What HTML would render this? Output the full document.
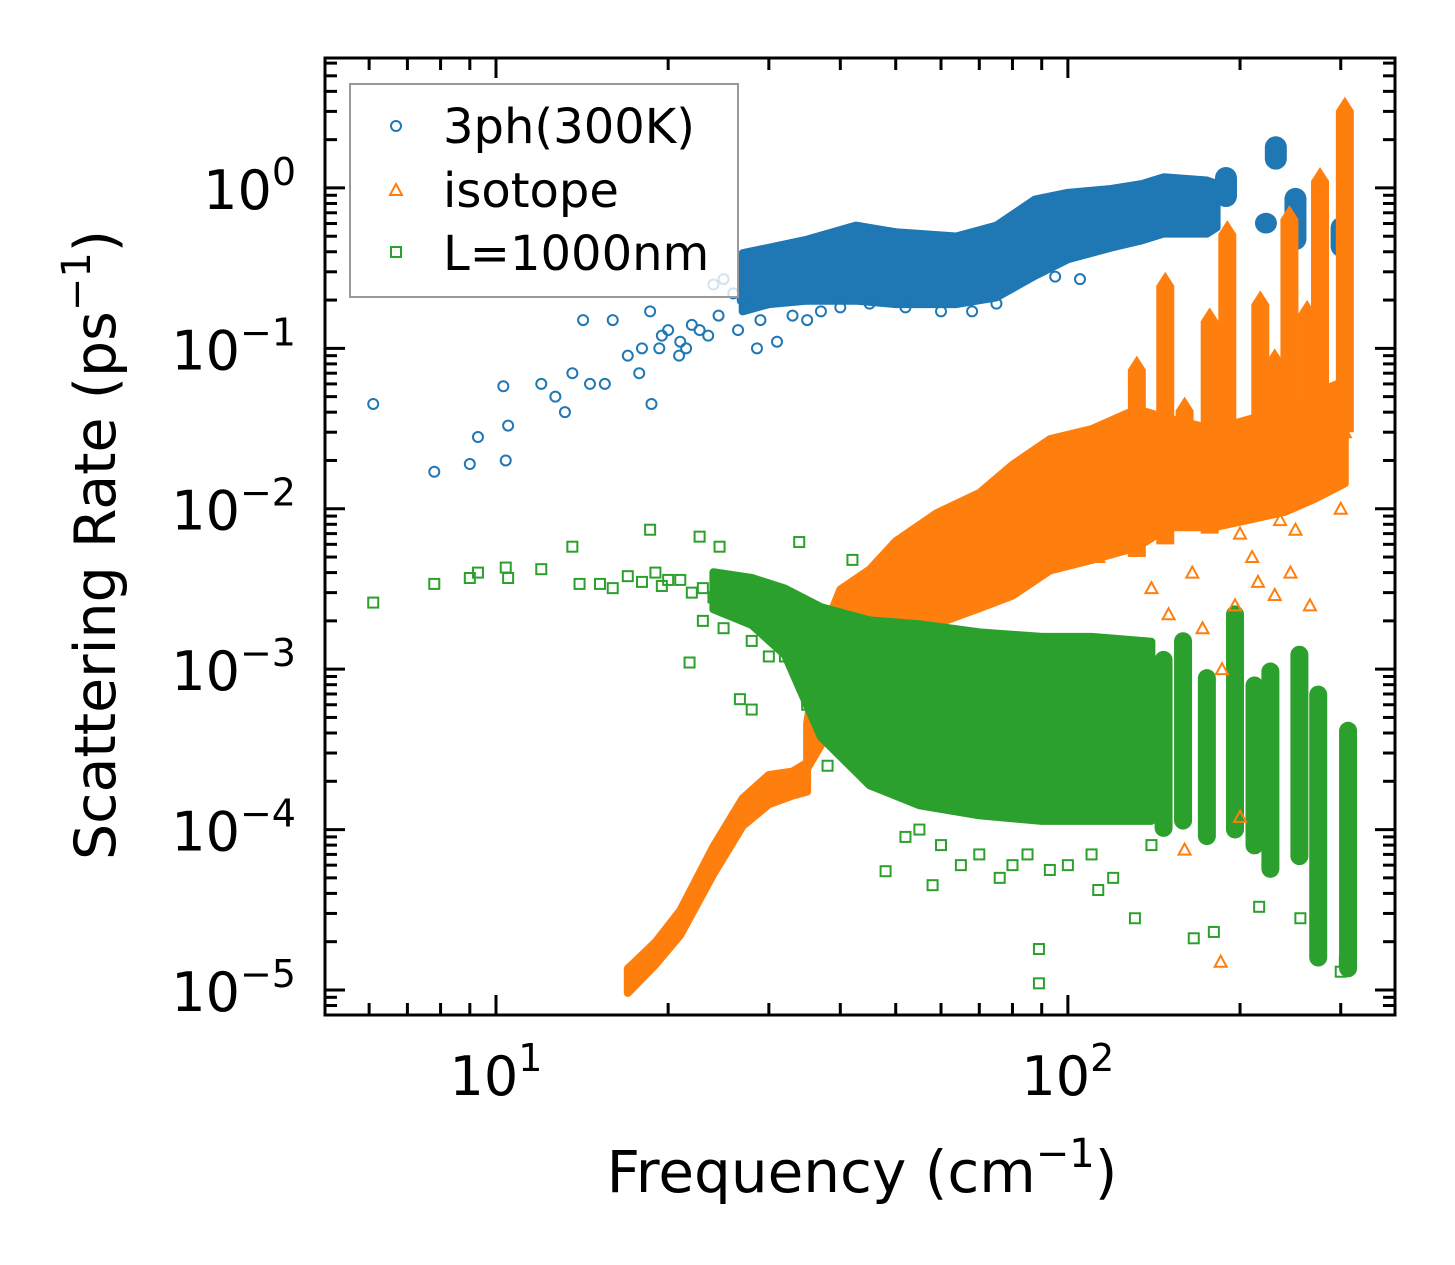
<!DOCTYPE html>
<html><head><meta charset="utf-8">
<style>
html,body{margin:0;padding:0;background:#fff;}
svg{display:block;font-family:"DejaVu Sans","Liberation Sans",sans-serif;}
</style></head>
<body>
<svg id="chart" width="1455" height="1265" viewBox="0 0 1455 1265" xmlns="http://www.w3.org/2000/svg">
<rect width="1455" height="1265" fill="#fff"/>
<g id="bands"></g>
<g id="marks"></g>
<g id="axes"></g>
<g>
  <rect x="350" y="84" width="388" height="213" fill="#fff" fill-opacity="0.8" stroke="#999" stroke-width="2"/>
  <circle cx="396" cy="126" r="5" fill="none" stroke="#1f77b4" stroke-width="2"/>
  <text x="443" y="143" font-size="48">3ph(300K)</text>
  <path d="M390,195 L396,184 L402,195 Z" fill="none" stroke="#ff7f0e" stroke-width="2"/>
  <text x="443" y="207" font-size="48">isotope</text>
  <rect x="391" y="247" width="10" height="10" fill="none" stroke="#2ca02c" stroke-width="2"/>
  <text x="443" y="270" font-size="48">L=1000nm</text>
</g>
<text x="862" y="1192" font-size="58" text-anchor="middle">Frequency (cm<tspan dy="-25" font-size="40">−1</tspan><tspan dy="25">)</tspan></text>
<text transform="translate(115,545) rotate(-90)" font-size="57" text-anchor="middle">Scattering Rate (ps<tspan dy="-25" font-size="40">−1</tspan><tspan dy="25">)</tspan></text>
</svg>
<script>
// ---- data ----
const xTickLabels = ["10","10"];
const xTickExp = [1,2];
const yTickExp = [0,-1,-2,-3,-4,-5];
// blue 3ph sparse points [freq, rate]
const blueX = [6.1,7.8,9,9.3,10.3,10.4,10.5,12,12.7,13.2,13.6,14.2,14.6,15.5,16,17.8,18.7,18.6,19.3,20,20.9,22.7,28.6,31,24,25,26,27,23.5,21.5,17,18,19.5,21,22,24.5,26.5,29,33,35,37,40,45,52,60,68,75,95,105];
const blueY = [0.045,0.017,0.019,0.028,0.058,0.02,0.033,0.06,0.05,0.04,0.07,0.15,0.06,0.06,0.15,0.07,0.045,0.17,0.1,0.13,0.09,0.13,0.1,0.11,0.25,0.27,0.22,0.2,0.12,0.1,0.09,0.1,0.12,0.11,0.14,0.16,0.13,0.15,0.16,0.15,0.17,0.18,0.19,0.18,0.17,0.17,0.19,0.28,0.27];
// blue dense band
const blueBandX = [27,30,35,42.6,50,63.8,75,87.6,100,119,135,147,175,182];
const blueBandLo = [0.18,0.2,0.21,0.21,0.2,0.2,0.22,0.3,0.38,0.45,0.5,0.55,0.55,0.6];
const blueBandHi = [0.37,0.4,0.45,0.55,0.5,0.47,0.55,0.8,0.88,0.93,1.0,1.1,1.05,1.0];
// blue islands
const blueIslX = [189,222,231,250,301];
const blueIslLo = [0.76,0.52,1.3,0.41,0.37];
const blueIslHi = [1.35,0.7,2.1,1.0,0.66];
// orange isotope band (low-frequency branch)
const orgLineX = [17,19,21,24,27,30,33,35];
const orgLineLo = [1e-5,1.5e-5,2.3e-5,5.5e-5,1.1e-4,1.5e-4,1.7e-4,1.8e-4];
const orgLineHi = [1.3e-5,1.9e-5,3e-5,7.5e-5,1.5e-4,2.1e-4,2.2e-4,2.5e-4];
// orange main band
const orgBandX = [35,37,40,45,50,59,70,80,93,110,132,150,180,210,240,270,305];
const orgBandLo = [2.5e-4,3.5e-4,6e-4,1e-3,1.4e-3,2e-3,2.5e-3,3e-3,4.3e-3,5e-3,6e-3,8e-3,8e-3,9e-3,1e-2,1.2e-2,1.5e-2];
const orgBandHi = [4.4e-4,1.5e-3,3e-3,4e-3,6e-3,9e-3,1.2e-2,1.8e-2,2.6e-2,3e-2,4e-2,3.5e-2,3e-2,3.5e-2,4e-2,5e-2,6e-2];
// orange spikes
const orgSpikeX = [132,148,160,177,190,217,230,244,262,276,305];
const orgSpikeLo = [5e-3,6e-3,8e-3,7e-3,1e-2,1e-2,2e-2,1.5e-2,2e-2,2e-2,3e-2];
const orgSpikeHi = [0.09,0.3,0.05,0.18,0.63,0.23,0.1,0.78,0.2,1.35,3.7];
// orange sparse
const orgX = [185,200,160,250,230,210,140,113,225,235,305,265,280,290,245,215,196,186,172,150,165,200,255,300];
const orgY = [1.5e-5,1.2e-4,7.5e-5,7.4e-3,2.9e-3,5e-3,3.2e-3,5e-3,1.5e-2,8.5e-3,0.03,2.5e-3,0.025,0.04,4e-3,3.5e-3,2.5e-3,1e-3,1.8e-3,2.2e-3,4e-3,7e-3,1.2e-2,1e-2];
// green sparse
const grnX = [6.1,7.8,9,9.3,10.4,10.5,12,13.6,15.2,18.6,22.7,24.6,33.9,42,21.8,26.7,28,48,58,89,89,113,131,166,180,216,255,300,305,68,76,93,14,16,19,20,23,25,30,36,45,38,55,35,32,17,18,19.5,21,22,24,26,27,29,31,33,28,30,25,23,60,70,80,100,120,52,65,85,110,140];
const grnY = [2.6e-3,3.4e-3,3.7e-3,4e-3,4.3e-3,3.7e-3,4.2e-3,5.8e-3,3.4e-3,7.4e-3,6.7e-3,5.8e-3,6.2e-3,4.8e-3,1.1e-3,6.5e-4,5.6e-4,5.5e-5,4.5e-5,1.1e-5,1.8e-5,4.2e-5,2.8e-5,2.1e-5,2.3e-5,3.3e-5,2.8e-5,1.3e-5,1.5e-5,1.4e-4,5e-5,5.6e-5,3.4e-3,3.2e-3,4e-3,3.6e-3,3.2e-3,3e-3,2.5e-3,1.6e-3,3.5e-4,2.5e-4,1e-4,6e-4,1.2e-3,3.8e-3,3.5e-3,3.3e-3,3.6e-3,3e-3,2.8e-3,2.6e-3,2.2e-3,2.4e-3,2e-3,1.8e-3,1.5e-3,1.2e-3,1.8e-3,2e-3,8e-5,7e-5,6e-5,6e-5,5e-5,9e-5,6e-5,7e-5,7e-5,8e-5];
// green dense band
const grnBandX = [24,28,32,37,45,55,70,90,110,140];
const grnBandLo = [2.5e-3,2e-3,1.3e-3,4e-4,2e-4,1.5e-4,1.3e-4,1.2e-4,1.2e-4,1.2e-4];
const grnBandHi = [3.8e-3,3.5e-3,3e-3,2.3e-3,1.9e-3,1.8e-3,1.6e-3,1.5e-3,1.5e-3,1.4e-3];
// green spikes
const grnSpikeX = [147,159,175,196,212,226,254,274,309];
const grnSpikeLo = [9e-5,1e-4,8e-5,8.8e-5,7e-5,5e-5,6e-5,1.4e-5,1.2e-5];
const grnSpikeHi = [1.3e-3,1.7e-3,1e-3,2.5e-3,9e-4,1.1e-3,1.4e-3,7.9e-4,4.7e-4];

// ---- axes mapping ----
const L=325,R=1395,T=58,B=1015;
const xLogMin=0.701, xLogMax=2.572;
const yLogMax=0.81, yLogMin=-5.156;
const sx = v => L + (Math.log10(v)-xLogMin)/(xLogMax-xLogMin)*(R-L);
const sy = v => T + (yLogMax-Math.log10(v))/(yLogMax-yLogMin)*(B-T);
const NS="http://www.w3.org/2000/svg";
function mk(tag, parent){ const e=document.createElementNS(NS,tag); parent.appendChild(e); return e; }
const C={b:"#1f77b4",o:"#ff7f0e",g:"#2ca02c"};
const bands=document.getElementById('bands');
const marks=document.getElementById('marks');
const axes=document.getElementById('axes');

function band(xs,lo,hi,col,name,pad){
  let d="M"+xs.map((x,i)=>sx(x).toFixed(1)+","+(sy(hi[i])-pad).toFixed(1)).join(" L");
  for(let i=xs.length-1;i>=0;i--) d+=" L"+sx(xs[i]).toFixed(1)+","+(sy(lo[i])+pad).toFixed(1);
  const p=mk('path',bands);
  
  
  p.setAttribute('d',d+" Z"); p.setAttribute('fill',col); p.setAttribute('stroke',col);
  p.setAttribute('stroke-width','8'); p.setAttribute('stroke-linejoin','round');
}
function spikes(xs,lo,hi,col,name,w){
  xs.forEach((x,i)=>{
    const cx=sx(x), y1=sy(hi[i]), y2=sy(lo[i]);
    const p=mk('path',bands);
    
    
    p.setAttribute('d',`M${cx-w},${y2} L${cx-w},${y1+14} L${cx},${y1} L${cx+w},${y1+14} L${cx+w},${y2} Z`);
    p.setAttribute('fill',col);
  });
}
function blobs(xs,lo,hi,col,name,w){
  xs.forEach((x,i)=>{
    const cx=sx(x), y1=sy(hi[i]), y2=sy(lo[i]);
    const r=mk('rect',bands);
    
    
    r.setAttribute('x',cx-w); r.setAttribute('y',y1); r.setAttribute('width',2*w); r.setAttribute('height',Math.max(2,y2-y1));
    r.setAttribute('rx',w); r.setAttribute('fill',col);
  });
}
function pts(xs,ys,col,shape,name){
  xs.forEach((x,i)=>{
    const cx=sx(x), cy=sy(ys[i]); let e;
    if(shape==='c'){ e=mk('circle',marks); e.setAttribute('cx',cx); e.setAttribute('cy',cy); e.setAttribute('r',5); }
    else if(shape==='t'){ e=mk('path',marks); e.setAttribute('d',`M${cx-6},${cy+5} L${cx},${cy-6} L${cx+6},${cy+5} Z`); }
    else { e=mk('rect',marks); e.setAttribute('x',cx-5); e.setAttribute('y',cy-5); e.setAttribute('width',10); e.setAttribute('height',10); }
    
    
    e.setAttribute('fill','none'); e.setAttribute('stroke',col); e.setAttribute('stroke-width','2');
  });
}
// blue
band(blueBandX,blueBandLo,blueBandHi,C.b,'blue-3ph-band',4);
blobs(blueIslX,blueIslLo,blueIslHi,C.b,'blue-3ph-cluster',11);
pts(blueX,blueY,C.b,'c','point-3ph');
// orange
band(orgLineX,orgLineLo,orgLineHi,C.o,'orange-isotope-branch',3);
band(orgBandX,orgBandLo,orgBandHi,C.o,'orange-isotope-band',3);
spikes(orgSpikeX,orgSpikeLo,orgSpikeHi,C.o,'orange-isotope-spike',9);
pts(orgX,orgY,C.o,'t','point-isotope');
// green
band(grnBandX,grnBandLo,grnBandHi,C.g,'green-l1000-band',4);
blobs(grnSpikeX,grnSpikeLo,grnSpikeHi,C.g,'green-l1000-spike',9);
pts(grnX,grnY,C.g,'s','point-l1000');

// ---- frame & ticks ----
const fr=mk('rect',axes);


fr.setAttribute('x',L); fr.setAttribute('y',T); fr.setAttribute('width',R-L); fr.setAttribute('height',B-T);
fr.setAttribute('fill','none'); fr.setAttribute('stroke','#000'); fr.setAttribute('stroke-width','3');
function tick(x1,y1,x2,y2,name){
  const l=mk('line',axes);
  
  
  l.setAttribute('x1',x1);l.setAttribute('y1',y1);l.setAttribute('x2',x2);l.setAttribute('y2',y2);
  l.setAttribute('stroke','#000'); l.setAttribute('stroke-width','3');
}
for(let d=0; d<=2; d++){
  for(let m=1;m<=9;m++){
    const v=m*Math.pow(10,d); const x=sx(v);
    if(x<L+1||x>R-1) continue;
    const len = m===1?20:12;
    tick(x,B,x,B-len,'x-tick'); tick(x,T,x,T+len,'x-tick-top');
  }
}
for(let d=-6; d<=0; d++){
  for(let m=1;m<=9;m++){
    const v=m*Math.pow(10,d); const y=sy(v);
    if(y<T+1||y>B-1) continue;
    const len = m===1?20:12;
    tick(L,y,L+len,y,'y-tick'); tick(R,y,R-len,y,'y-tick-right');
  }
}
xTickExp.forEach((e,i)=>{
  const t=mk('text',axes);
  
  
  t.setAttribute('x',sx(Math.pow(10,e))); t.setAttribute('y',1095); t.setAttribute('font-size','54'); t.setAttribute('text-anchor','middle');
  t.innerHTML=xTickLabels[i]+'<tspan dy="-24" font-size="38">'+e+'</tspan>';
});
yTickExp.forEach(e=>{
  const t=mk('text',axes);
  
  
  t.setAttribute('x',296); t.setAttribute('y',sy(Math.pow(10,e))+21); t.setAttribute('font-size','54'); t.setAttribute('text-anchor','end');
  const s = e<0 ? '−'+(-e) : ''+e;
  t.innerHTML='10<tspan dy="-24" font-size="38">'+s+'</tspan>';
});
</script>
</body></html>
